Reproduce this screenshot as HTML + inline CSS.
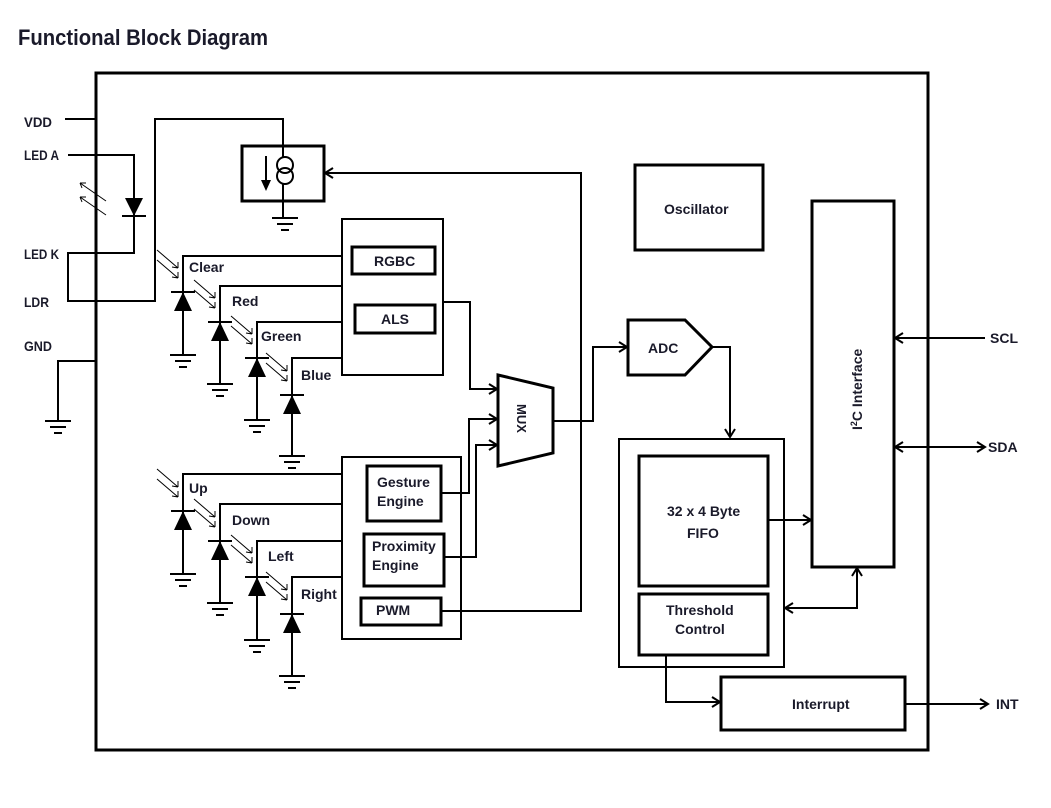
<!DOCTYPE html>
<html><head><meta charset="utf-8"><style>
html,body{margin:0;padding:0;background:#fff;}
svg{display:block;}
text{font-family:"Liberation Sans",sans-serif;font-weight:bold;fill:#1a1a2a;}
</style></head><body>
<svg width="1051" height="808" viewBox="0 0 1051 808" xmlns="http://www.w3.org/2000/svg">
<defs>
<marker id="a" markerWidth="12" markerHeight="12" refX="10" refY="6" orient="auto" markerUnits="userSpaceOnUse">
<path d="M2,1 L10,6 L2,11" fill="none" stroke="#000" stroke-width="2"/></marker>
<marker id="as" markerWidth="12" markerHeight="12" refX="10" refY="6" orient="auto-start-reverse" markerUnits="userSpaceOnUse">
<path d="M2,1 L10,6 L2,11" fill="none" stroke="#000" stroke-width="2"/></marker>
<g id="gnd"><line x1="-13" y1="0" x2="13" y2="0" stroke="#000" stroke-width="2"/><line x1="-8" y1="6" x2="8" y2="6" stroke="#000" stroke-width="2"/><line x1="-4" y1="12" x2="4" y2="12" stroke="#000" stroke-width="2"/></g>
<g id="pd"><line x1="-12" y1="0" x2="12" y2="0" stroke="#000" stroke-width="2"/><polygon points="0,0 -9,19 9,19" fill="#000"/>
<g stroke="#000" stroke-width="1" fill="none"><path d="M-26,-42 L-5,-24 M-26,-32 L-5,-14 M-5,-24 l-6,-1 M-5,-24 l0,-6 M-5,-14 l-6,-1 M-5,-14 l0,-6"/></g></g>
</defs>
<text x="18" y="45" font-size="22" textLength="250" lengthAdjust="spacingAndGlyphs">Functional Block Diagram</text>
<rect x="96" y="73" width="832" height="677" fill="none" stroke="#000" stroke-width="3"/>
<g font-size="14">
<text x="24" y="127" textLength="28" lengthAdjust="spacingAndGlyphs">VDD</text>
<text x="24" y="160" textLength="35" lengthAdjust="spacingAndGlyphs">LED A</text>
<text x="24" y="259" textLength="35" lengthAdjust="spacingAndGlyphs">LED K</text>
<text x="24" y="307" textLength="25" lengthAdjust="spacingAndGlyphs">LDR</text>
<text x="24" y="351" textLength="28" lengthAdjust="spacingAndGlyphs">GND</text>
</g>
<g fill="none" stroke="#000" stroke-width="2">
<path d="M65,119 H96"/>
<path d="M68,155 H134 V253 H68 V301 H155 V119 H283 V157"/>
<path d="M96,361 H58 V421"/>
<path d="M283,183 V218"/>
</g>
<use href="#gnd" x="58" y="421"/>
<line x1="122" y1="216" x2="146" y2="216" stroke="#000" stroke-width="2"/>
<polygon points="125,198 143,198 134,216" fill="#000"/>
<g stroke="#000" stroke-width="1" fill="none"><path d="M106,201 L80,183 M106,215 L80,197 M80,183 l6,0 M80,183 l2,5 M80,197 l6,0 M80,197 l2,5"/></g>
<!-- current source -->
<rect x="242" y="146" width="82" height="55" fill="none" stroke="#000" stroke-width="3"/>
<circle cx="285" cy="165" r="8" fill="none" stroke="#000" stroke-width="2"/>
<circle cx="285" cy="176" r="8" fill="none" stroke="#000" stroke-width="2"/>
<line x1="266" y1="156" x2="266" y2="180" stroke="#000" stroke-width="2"/>
<polygon points="261,180 271,180 266,191" fill="#000"/>
<use href="#gnd" x="285" y="218"/>
<!-- RGBC group -->
<rect x="342" y="219" width="101" height="156" fill="none" stroke="#000" stroke-width="2"/>
<rect x="352" y="247" width="83" height="27" fill="none" stroke="#000" stroke-width="3"/>
<rect x="355" y="305" width="80" height="28" fill="none" stroke="#000" stroke-width="3"/>
<g font-size="14"><text x="374" y="266">RGBC</text><text x="381" y="324">ALS</text></g>
<g fill="none" stroke="#000" stroke-width="2">
<path d="M342,256 H183 V355"/><path d="M342,286 H220 V384"/><path d="M342,322 H257 V420"/><path d="M342,358 H292 V456"/>
<path d="M342,474 H183 V574"/><path d="M342,504 H220 V603"/><path d="M342,541 H257 V640"/><path d="M342,577 H292 V676"/>
</g>
<use href="#pd" x="183" y="292"/><use href="#pd" x="220" y="322"/><use href="#pd" x="257" y="358"/><use href="#pd" x="292" y="395"/>
<use href="#pd" x="183" y="511"/><use href="#pd" x="220" y="541"/><use href="#pd" x="257" y="577"/><use href="#pd" x="292" y="614"/>
<use href="#gnd" x="183" y="355"/><use href="#gnd" x="220" y="384"/><use href="#gnd" x="257" y="420"/><use href="#gnd" x="292" y="456"/>
<use href="#gnd" x="183" y="574"/><use href="#gnd" x="220" y="603"/><use href="#gnd" x="257" y="640"/><use href="#gnd" x="292" y="676"/>
<g font-size="14">
<text x="189" y="272">Clear</text><text x="232" y="306">Red</text><text x="261" y="341">Green</text><text x="301" y="380">Blue</text>
<text x="189" y="493">Up</text><text x="232" y="525">Down</text><text x="268" y="561">Left</text><text x="301" y="599">Right</text>
</g>
<!-- gesture group -->
<rect x="342" y="457" width="119" height="182" fill="none" stroke="#000" stroke-width="2"/>
<rect x="367" y="466" width="74" height="55" fill="none" stroke="#000" stroke-width="3"/>
<rect x="364" y="534" width="80" height="52" fill="none" stroke="#000" stroke-width="3"/>
<rect x="361" y="598" width="80" height="27" fill="none" stroke="#000" stroke-width="3"/>
<g font-size="14"><text x="377" y="487">Gesture</text><text x="377" y="506">Engine</text>
<text x="372" y="551">Proximity</text><text x="372" y="570">Engine</text><text x="376" y="615">PWM</text></g>
<g fill="none" stroke="#000" stroke-width="2">
<path d="M443,302 H470 V389 H497" marker-end="url(#a)"/>
<path d="M441,493 H469 V419 H497" marker-end="url(#a)"/>
<path d="M444,557 H476 V445 H497" marker-end="url(#a)"/>
<path d="M441,611 H581 V173 H325" marker-end="url(#a)"/>
<path d="M553,421 H593 V347 H627" marker-end="url(#a)"/>
<path d="M712,347 H730 V437" marker-end="url(#a)"/>
</g>
<polygon points="498,375 553,388 553,453 498,466" fill="none" stroke="#000" stroke-width="3"/>
<text font-size="13" transform="translate(517,404) rotate(90)">MUX</text>
<polygon points="628,320 685,320 712,347 685,375 628,375" fill="none" stroke="#000" stroke-width="3"/>
<text x="648" y="353" font-size="14">ADC</text>
<rect x="635" y="165" width="128" height="85" fill="none" stroke="#000" stroke-width="3"/>
<text x="664" y="214" font-size="14">Oscillator</text>
<rect x="812" y="201" width="82" height="366" fill="none" stroke="#000" stroke-width="3"/>
<text font-size="14" transform="translate(862,430) rotate(-90)">I<tspan font-size="9" dy="-5">2</tspan><tspan dy="5">C Interface</tspan></text>
<rect x="619" y="439" width="165" height="228" fill="none" stroke="#000" stroke-width="2"/>
<rect x="639" y="456" width="129" height="130" fill="none" stroke="#000" stroke-width="3"/>
<rect x="639" y="594" width="129" height="61" fill="none" stroke="#000" stroke-width="3"/>
<g font-size="14"><text x="667" y="516">32 x 4 Byte</text><text x="687" y="538">FIFO</text>
<text x="666" y="615">Threshold</text><text x="675" y="634">Control</text></g>
<rect x="721" y="677" width="184" height="53" fill="none" stroke="#000" stroke-width="3"/>
<text x="792" y="709" font-size="14">Interrupt</text>
<g fill="none" stroke="#000" stroke-width="2">
<path d="M768,520 H811" marker-end="url(#a)"/>
<path d="M785,608 H857 V568" marker-start="url(#as)" marker-end="url(#as)"/>
<path d="M666,655 V702 H720" marker-end="url(#a)"/>
<path d="M905,704 H988" marker-end="url(#a)"/>
<path d="M985,338 H895" marker-end="url(#a)"/>
<path d="M895,447 H985" marker-start="url(#as)" marker-end="url(#as)"/>
</g>
<g font-size="14"><text x="990" y="343">SCL</text><text x="988" y="452">SDA</text><text x="996" y="709">INT</text></g>
</svg>
</body></html>
